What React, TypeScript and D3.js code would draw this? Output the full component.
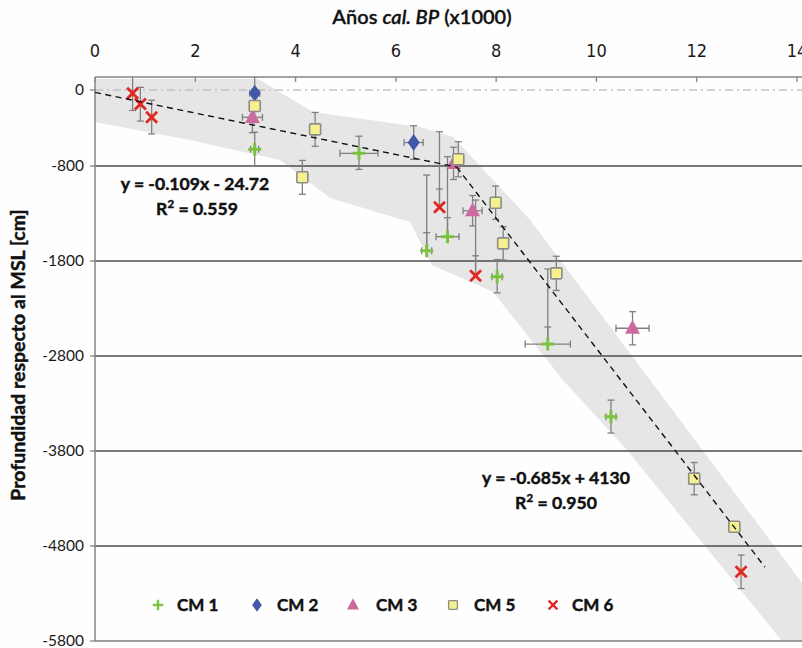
import React from "react";
import * as d3 from "d3";

// ---------- data (x in thousand years cal BP, y in cm relative to MSL) ----------
const cm1X = [3.185, 5.265, 6.615, 7.03, 8.02, 9.03, 10.29];
const cm1Y = [-624, -666, -1692, -1544, -1965, -2674, -3439];
const cm1XErr = [0.08, 0.38, 0.1, 0.23, 0.1, 0.45, 0.1];
const cm1Up = [180, 180, 797, 842, 180, 790, 175];
const cm1Down = [180, 170, -190, -200, 170, -180, 172];

const cm2X = [3.185, 6.355];
const cm2Y = [-35, -553];
const cm2XErr = [0.1, 0.19];
const cm2Up = [175, 177];
const cm2Down = [175, 177];

const cm3X = [3.14, 7.15, 7.53, 10.72];
const cm3Y = [-287, -772, -1271, -2508];
const cm3XErr = [0.2, 0.0, 0.19, 0.33];
const cm3Up = [170, 170, 160, 175];
const cm3Down = [162, 170, 160, 175];

const cm5X = [3.185, 4.39, 4.135, 7.245, 7.99, 8.14, 9.2, 11.95, 12.75];
const cm5Y = [-168, -414, -919, -729, -1186, -1614, -1930, -4091, -4597];
const cm5XErr = [0, 0, 0, 0, 0, 0, 0, 0, 0];
const cm5Up = [175, 178, 178, 185, 175, 175, 180, 170, 0];
const cm5Down = [175, 178, 178, 185, 175, 175, 180, 170, 0];

const cm6X = [0.75, 0.905, 1.13, 6.87, 7.59, 12.885];
const cm6Y = [-35, -147, -287, -1235, -1955, -5070];
const cm6XErr = [0, 0, 0, 0, 0, 0];
const cm6Up = [180, 175, 180, 796, 797, 175];
const cm6Down = [180, 180, 175, -193, -210, 178];

// shaded envelope (outline, clockwise)
const bandX = [0, 3.25, 4.35, 6.48, 7.14, 8.68, 14.2, 14.2, 13.7, 10.61, 9.33, 7.94, 6.72, 6.28, 4.69, 3.69, 1.89, 0];
const bandY = [116, 116, -232, -389, -495, -1368, -5260, -5800, -5800, -3789, -3053, -2126, -1842, -1389, -1137, -737, -526, -337];

// regressions y = a*x(years) + b
const regA = [-0.109, -0.685];
const regB = [-24.72, 4130];
const regFrom = [0, 7213];
const regTo = [7213, 13360];
const regLabel = ["y = -0.109x - 24.72", "y = -0.685x + 4130"];
const regR2 = ["0.559", "0.950"];

const xTicks = [0, 2, 4, 6, 8, 10, 12, 14];
const yTicks = [0, -800, -1800, -2800, -3800, -4800, -5800];
const gridValues = [-800, -1800, -2800, -3800, -4800];

const legendNames = ["CM 1", "CM 2", "CM 3", "CM 5", "CM 6"];

// ---------- layout ----------
const W = 802;
const H = 648;
const x = d3.scaleLinear().domain([0, 14]).range([95, 797]);
const y = d3.scaleLinear().domain([137, -5800]).range([77, 641]);

const FONT = "Lato, 'Open Sans', sans-serif";
const ERR = "#808080";

const C1 = "#7cc242";
const C2 = "#4257a7";
const C3 = "#cc6a9f";
const C5F = "#f6f08e";
const C6 = "#e42520";

const boldStroke = { stroke: "#111", strokeWidth: 0.45 };

type Kind = "plus" | "diamond" | "tri" | "square" | "x";

function Marker({ kind, cx, cy }: { kind: Kind; cx: number; cy: number }) {
  if (kind === "plus") {
    const s = 6.5;
    return (
      <g stroke={C1} strokeWidth={3}>
        <line x1={cx - s} x2={cx + s} y1={cy} y2={cy} />
        <line x1={cx} x2={cx} y1={cy - s} y2={cy + s} />
      </g>
    );
  }
  if (kind === "diamond") {
    const w = 6, h = 8.5;
    return <path d={`M${cx},${cy - h}L${cx + w},${cy}L${cx},${cy + h}L${cx - w},${cy}Z`} fill={C2} />;
  }
  if (kind === "tri") {
    const w = 7.5, h = 14;
    return <path d={`M${cx},${cy - h * 0.6}L${cx + w},${cy + h * 0.4}L${cx - w},${cy + h * 0.4}Z`} fill={C3} />;
  }
  if (kind === "square") {
    const s = 5.5;
    return <rect x={cx - s} y={cy - s} width={2 * s} height={2 * s} fill={C5F} stroke="#8c8c8c" strokeWidth={1.6} rx={1} />;
  }
  const s = 5.5;
  return (
    <g stroke={C6} strokeWidth={2.8}>
      <line x1={cx - s} x2={cx + s} y1={cy - s} y2={cy + s} />
      <line x1={cx - s} x2={cx + s} y1={cy + s} y2={cy - s} />
    </g>
  );
}

type Series = { kind: Kind; xs: number[]; ys: number[]; xe: number[]; up: number[]; down: number[] };
const series: Series[] = [
  { kind: "plus", xs: cm1X, ys: cm1Y, xe: cm1XErr, up: cm1Up, down: cm1Down },
  { kind: "diamond", xs: cm2X, ys: cm2Y, xe: cm2XErr, up: cm2Up, down: cm2Down },
  { kind: "tri", xs: cm3X, ys: cm3Y, xe: cm3XErr, up: cm3Up, down: cm3Down },
  { kind: "square", xs: cm5X, ys: cm5Y, xe: cm5XErr, up: cm5Up, down: cm5Down },
  { kind: "x", xs: cm6X, ys: cm6Y, xe: cm6XErr, up: cm6Up, down: cm6Down },
];

function ErrorBars({ s }: { s: Series }) {
  const cap = 3.5;
  return (
    <g stroke={ERR} strokeWidth={1.3} fill="none">
      {s.xs.map((xv, i) => {
        const px = x(xv);
        const py = y(s.ys[i]);
        const els: React.ReactNode[] = [];
        if (s.up[i]) {
          const ty = y(s.ys[i] + s.up[i]);
          els.push(<line key="u" x1={px} x2={px} y1={py} y2={ty} />);
          els.push(<line key="uc" x1={px - cap} x2={px + cap} y1={ty} y2={ty} />);
        }
        if (s.down[i]) {
          const by = y(s.ys[i] - s.down[i]);
          els.push(<line key="d" x1={px} x2={px} y1={py} y2={by} />);
          els.push(<line key="dc" x1={px - cap} x2={px + cap} y1={by} y2={by} />);
        }
        if (s.xe[i]) {
          const lx = x(xv - s.xe[i]);
          const rx = x(xv + s.xe[i]);
          els.push(<line key="h" x1={lx} x2={rx} y1={py} y2={py} />);
          els.push(<line key="hl" x1={lx} x2={lx} y1={py - cap} y2={py + cap} />);
          els.push(<line key="hr" x1={rx} x2={rx} y1={py - cap} y2={py + cap} />);
        }
        return <g key={i}>{els}</g>;
      })}
    </g>
  );
}

export default function App() {
  const bandPts: [number, number][] = bandX.map((v, i) => [x(v), y(bandY[i])]);
  const bandPath = d3.line()(bandPts) + "Z";

  const regPaths = regA.map((a, k) => {
    const xs = [regFrom[k], regTo[k]];
    const pts: [number, number][] = xs.map((yr) => [x(yr / 1000), y(a * yr + regB[k])]);
    return d3.line()(pts) as string;
  });

  const legendKinds: Kind[] = ["plus", "diamond", "tri", "square", "x"];
  const legendMarkX = [158, 257, 353, 453, 553];
  const legendTextX = [177, 277, 376, 474, 572];
  const legendY = 605;

  return (
    <svg width={W} height={H} style={{ position: "absolute", left: 0, top: 0, background: "#fefefe" }} fontFamily={FONT}>
      <defs>
        <clipPath id="plot">
          <rect x={95} y={77} width={W - 95} height={641 - 77} />
        </clipPath>
      </defs>
      <rect x={0} y={0} width={W} height={H} fill="#fefefe" />

      {/* band */}
      <path d={bandPath} fill="#e6e6e6" clipPath="url(#plot)" />

      {/* gridlines */}
      {gridValues.map((v) => (
        <line key={v} x1={95} x2={W} y1={y(v)} y2={y(v)} stroke="#4d4d4d" strokeWidth={1.3} />
      ))}
      {/* zero reference */}
      <line x1={95} x2={W} y1={y(0)} y2={y(0)} stroke="#c4c4c4" strokeWidth={1.3} strokeDasharray="8,4,2,4" />

      {/* bottom axis line */}
      <line x1={95} x2={W} y1={y(-5800)} y2={y(-5800)} stroke="#9a9a9a" strokeWidth={2} />
      {/* top axis */}
      <line x1={95} x2={W} y1={77} y2={77} stroke="#858585" strokeWidth={1.5} />
      {xTicks.map((t) => (
        <g key={t}>
          <line x1={x(t)} x2={x(t)} y1={77} y2={82} stroke="#858585" strokeWidth={1.3} />
          <text x={x(t)} y={57} textAnchor="middle" fontSize={18} fill="#1a1a1a"
            fontFamily="'Liberation Sans Narrow', 'DejaVu Sans Condensed', sans-serif">{t}</text>
        </g>
      ))}
      {/* left axis */}
      <line x1={95} x2={95} y1={77} y2={641} stroke="#858585" strokeWidth={1.5} />
      {yTicks.map((t) => (
        <g key={t}>
          <line x1={90} x2={95} y1={y(t)} y2={y(t)} stroke="#858585" strokeWidth={1.3} />
          <text x={84} y={y(t)} dy="0.33em" textAnchor="end" fontSize={15.5} fill="#1a1a1a">{t}</text>
        </g>
      ))}

      {/* titles */}
      <text x={422} y={24} textAnchor="middle" fontSize={20} fontWeight={600} fill="#111" stroke="#111" strokeWidth={0.3}>
        Años <tspan fontStyle="italic">cal. BP</tspan> (x1000)
      </text>
      <text transform="translate(25,355) rotate(-90)" textAnchor="middle" fontSize={19.5} fontWeight="bold" fill="#111" {...boldStroke}>
        Profundidad respecto al MSL [cm]
      </text>

      {/* error bars and markers */}
      <g clipPath="url(#plot)">
        {series.map((s, k) => <ErrorBars key={k} s={s} />)}
        {series.map((s, k) => (
          <g key={k}>
            {s.xs.map((xv, i) => <Marker key={i} kind={s.kind} cx={x(xv)} cy={y(s.ys[i])} />)}
          </g>
        ))}
        {/* trend lines */}
        {regPaths.map((p, k) => (
          <path key={k} d={p} fill="none" stroke="#111" strokeWidth={1.4} strokeDasharray="6,4.5" />
        ))}
      </g>

      {/* regression labels */}
      <g fontWeight="bold" fontSize={17.6} fill="#111" textAnchor="middle" {...boldStroke}>
        <text x={195} y={190}>{regLabel[0]}</text>
        <text x={197} y={215}>R<tspan dy={-7} fontSize={11.5}>2</tspan><tspan dy={7}> = {regR2[0]}</tspan></text>
        <text x={556} y={484}>{regLabel[1]}</text>
        <text x={556} y={509}>R<tspan dy={-7} fontSize={11.5}>2</tspan><tspan dy={7}> = {regR2[1]}</tspan></text>
      </g>

      {/* legend */}
      {legendNames.map((n, i) => (
        <g key={n}>
          <g transform={`translate(${legendMarkX[i]},${legendY}) scale(0.8) translate(${-legendMarkX[i]},${-legendY})`}>
            <Marker kind={legendKinds[i]} cx={legendMarkX[i]} cy={legendY} />
          </g>
          <text x={legendTextX[i]} y={legendY} dy="0.35em" fontSize={17} fontWeight="bold" fill="#111" {...boldStroke}>{n}</text>
        </g>
      ))}
    </svg>
  );
}
